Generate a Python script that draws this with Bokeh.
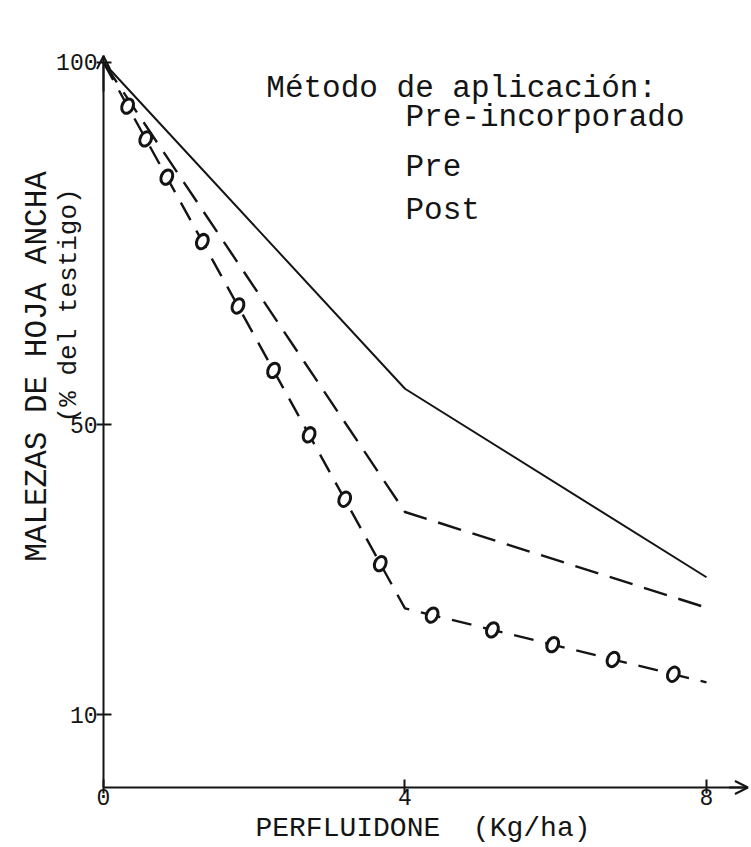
import numpy as np
from bokeh.plotting import figure
from bokeh.models import Range1d, FixedTicker, Label, Arrow, OpenHead
from bokeh.embed import file_html
from bokeh.resources import INLINE

# ---- data ----
dosis = [0, 4, 8]                      # PERFLUIDONE (Kg/ha)
pre_incorporado = [100, 55.0, 29.0]    # % del testigo
pre = [100, 38.0, 24.8]
post = [100, 24.7, 14.5]
y_ticks = [10, 50, 100]
x_ticks = [0, 4, 8]

FONT = "Liberation Mono"
INK = "#141414"

W, H = 750, 845
p = figure(width=W, height=H, output_backend="svg", toolbar_location=None,
           x_range=Range1d(-1.3665, 8.584), y_range=Range1d(-8.0, 108.55),
           min_border_left=0, min_border_right=0, min_border_top=0,
           min_border_bottom=0)
p.outline_line_color = None
p.grid.visible = False
p.background_fill_color = "white"
p.border_fill_color = "white"

# axes drawn through the origin
for ax in (p.xaxis[0], p.yaxis[0]):
    ax.fixed_location = 0
    ax.axis_line_width = 2
    ax.axis_line_color = INK
    ax.major_tick_line_color = INK
    ax.major_tick_line_width = 2
    ax.minor_tick_line_color = None
    ax.major_label_text_font = FONT
    ax.major_label_text_font_size = "23px"
    ax.major_label_text_color = INK

p.yaxis.ticker = FixedTicker(ticks=y_ticks)
p.yaxis.bounds = (0, 100.9)
p.yaxis.major_tick_in = 8
p.yaxis.major_tick_out = 7
p.yaxis.major_label_standoff = -1

p.xaxis.ticker = FixedTicker(ticks=x_ticks)
p.xaxis.bounds = (0, 8.55)
p.xaxis.major_tick_in = 8
p.xaxis.major_tick_out = 6
p.xaxis.major_label_standoff = -4

# axis arrow heads
p.add_layout(Arrow(end=OpenHead(size=13, line_width=2, line_color=INK),
                   line_color=INK, line_width=2,
                   x_start=0, y_start=96, x_end=0, y_end=100.9))
p.add_layout(Arrow(end=OpenHead(size=13, line_width=2, line_color=INK),
                   line_color=INK, line_width=2,
                   x_start=8.3, y_start=0, x_end=8.55, y_end=0))

# series
p.line(dosis, pre_incorporado, line_color=INK, line_width=2)
p.line(dosis, pre, line_color=INK, line_width=2.4, line_dash="24 12")
p.line(dosis, post, line_color=INK, line_width=2.4, line_dash="20 12")

# 'o' marks that make up the Post line style (placed along its own segments)
def along(xs, ys, seg, fracs):
    x0, x1 = xs[seg], xs[seg + 1]
    y0, y1 = ys[seg], ys[seg + 1]
    f = np.asarray(fracs)
    return x0 + f * (x1 - x0), y0 + f * (y1 - y0)

f1 = np.concatenate([[0.08, 0.14], np.arange(0.21, 0.97, 0.118)])
mx1, my1 = along(dosis, post, 0, f1)
mx2, my2 = along(dosis, post, 1, np.linspace(0.09, 0.89, 5))
p.ellipse(np.concatenate([mx1, mx2]), np.concatenate([my1, my2]),
          width=11, height=15, width_units="screen", height_units="screen",
          angle=-0.45, fill_color="white", line_color=INK, line_width=3)

# legend text (typed)
leg = [("Método de aplicación:", 2.16, 96.4),
       ("Pre-incorporado", 4.007, 92.4),
       ("Pre", 4.007, 85.5),
       ("Post", 4.007, 79.6)]
for txt, lx, ly in leg:
    p.add_layout(Label(x=lx, y=ly, text=txt, text_font=FONT,
                       text_font_size="31px", text_color=INK,
                       text_baseline="alphabetic", text_align="left"))

# axis titles
p.add_layout(Label(x=2.016, y=-5.6, text="PERFLUIDONE", text_font=FONT,
                   text_font_size="28px", text_color=INK,
                   text_align="left", text_baseline="alphabetic"))
p.add_layout(Label(x=6.461, y=-5.6, text="(Kg/ha)", text_font=FONT,
                   text_font_size="28px", text_color=INK,
                   text_align="right", text_baseline="alphabetic"))
p.add_layout(Label(x=-0.8756, y=58.07, text="MALEZAS DE HOJA ANCHA", text_font=FONT,
                   text_font_size="31px", text_color=INK, angle=np.pi / 2,
                   text_align="center", text_baseline="middle"))
p.add_layout(Label(x=-0.4643, y=66.5, text="(% del testigo)", text_font=FONT,
                   text_font_size="26px", text_color=INK, angle=np.pi / 2,
                   text_align="center", text_baseline="middle"))

open("out.html", "w").write(file_html(p, INLINE))
